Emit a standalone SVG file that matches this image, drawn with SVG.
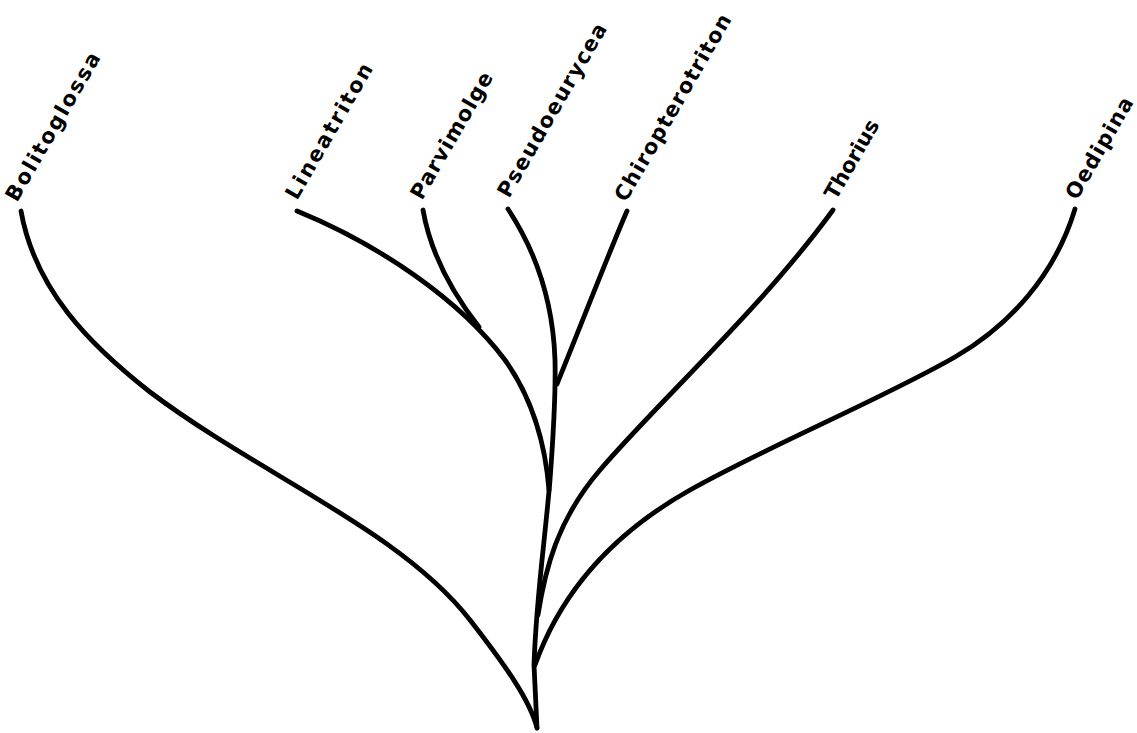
<svg xmlns="http://www.w3.org/2000/svg" width="1137" height="733" viewBox="0 0 1137 733">
<style>
.br{fill:none;stroke:#000;stroke-width:4.8;stroke-linecap:round;stroke-linejoin:round}
.lb{font-family:"DejaVu Sans","Liberation Sans",sans-serif;font-size:21px;font-weight:bold;fill:#000}
</style>
<rect width="1137" height="733" fill="#fff"/>
<g id="connectors">
<path class="br" d="M21,211 C35,290 90,345 150,392 C260,475 400,530 470,620 C505,665 530,700 537,728"/>
<path class="br" d="M537,728 L534,665 C536,600 545,540 550,480 C553,440 556,400 555,360 C553,300 535,250 508,209"/>
<path class="br" d="M297,211 C380,245 460,300 505,360 C530,395 545,440 549,490"/>
<path class="br" d="M423,210 C430,250 450,290 479,327"/>
<path class="br" d="M627,211 C612,245 575,340 557,384"/>
<path class="br" d="M833,210 C760,310 660,400 600,470 C557,520 545,570 538,615"/>
<path class="br" d="M1075,209 C1055,275 1010,325 955,357 C880,400 770,445 690,490 C610,535 560,595 535,665"/>
</g>
<g id="n-bolitoglossa"><text class="lb" transform="translate(17,203) rotate(-60)" textLength="168" lengthAdjust="spacing">Bolitoglossa</text></g>
<g id="n-lineatriton"><text class="lb" transform="translate(297,201) rotate(-60)" textLength="153" lengthAdjust="spacing">Lineatriton</text></g>
<g id="n-parvimolge"><text class="lb" transform="translate(422,201) rotate(-60)" textLength="143" lengthAdjust="spacing">Parvimolge</text></g>
<g id="n-pseudoeurycea"><text class="lb" transform="translate(509,199) rotate(-60)" textLength="197" lengthAdjust="spacing">Pseudoeurycea</text></g>
<g id="n-chiropterotriton"><text class="lb" transform="translate(626,203) rotate(-60)" textLength="212" lengthAdjust="spacing">Chiropterotriton</text></g>
<g id="n-thorius"><text class="lb" transform="translate(836,201) rotate(-60)" textLength="88" lengthAdjust="spacing">Thorius</text></g>
<g id="n-oedipina"><text class="lb" transform="translate(1077,201) rotate(-60)" textLength="114" lengthAdjust="spacing">Oedipina</text></g>
</svg>
